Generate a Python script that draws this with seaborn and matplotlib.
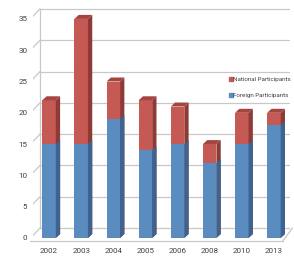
import matplotlib
matplotlib.use("Agg")
import matplotlib.pyplot as plt
import seaborn as sns
import pandas as pd
from matplotlib.patches import Polygon
from matplotlib.lines import Line2D

years = ["2002", "2003", "2004", "2005", "2006", "2008", "2010", "2013"]
foreign = [15, 15, 19, 14, 15, 12, 15, 18]
national = [7, 20, 6, 8, 6, 3, 5, 2]
yticks = [0, 5, 10, 15, 20, 25, 30, 35]

total = [f + n for f, n in zip(foreign, national)]
df = pd.DataFrame({"year": years, "foreign": foreign, "total": total})

sns.set_style("white")
plt.rcParams["font.family"] = ["Roboto", "DejaVu Sans"]
fs = 5.8
lfs = 4.5

W, H = 294, 256
fig = plt.figure(figsize=(W / 100, H / 100), dpi=100)
ax_left, ax_right, ax_bot, ax_top = 33, 290, 238, 6
ax = fig.add_axes([ax_left / W, (H - ax_bot) / H, (ax_right - ax_left) / W, (ax_bot - ax_top) / H])

ppu = 6.26  # pixels per y unit
ymax = (ax_bot - ax_top) / ppu
xmin, xmax = -0.6, 7.6
xppu = (ax_right - ax_left) / (xmax - xmin)
ax.set_xlim(xmin, xmax)
ax.set_ylim(0, ymax)

# background 3D grid
gdx, gdy = 10 / xppu, 10 / ppu
gc = "#c8c8c8"
for v in yticks:
    ax.plot([xmin + 0.02, xmin + gdx], [v, v + gdy], color=gc, lw=0.9, zorder=0)
    ax.plot([xmin + gdx, xmax - 0.02], [v + gdy, v + gdy], color=gc, lw=0.9, zorder=0)
ax.plot([xmin + 0.02, xmin + 0.02], [0, yticks[-1]], color=gc, lw=0.9, zorder=0)
ax.plot([xmin + gdx, xmin + gdx], [gdy, yticks[-1] + gdy], color=gc, lw=0.9, zorder=0)
ax.plot([xmin + 0.02, xmax - gdx], [-0.45, -0.45], color=gc, lw=0.9, zorder=0, clip_on=False)
ax.plot([xmax - gdx, xmax - 0.02], [-0.45, gdy], color=gc, lw=0.9, zorder=0, clip_on=False)

red, red_side, red_top = "#c55a55", "#8e3a37", "#a54441"
blue, blue_side, blue_top = "#5b8cc0", "#3d6390", "#4a77a8"

sns.barplot(data=df, x="year", y="total", color=red, saturation=1, width=0.42, ax=ax, zorder=2, linewidth=0)
n = len(ax.patches)
sns.barplot(data=df, x="year", y="foreign", color=blue, saturation=1, width=0.42, ax=ax, zorder=3, linewidth=0)
red_bars = ax.patches[:n]
blue_bars = ax.patches[n:]

ddx, ddy = 4.2 / xppu, 4 / ppu
for bars, side, top, ztop in [(red_bars, red_side, red_top, True), (blue_bars, blue_side, blue_top, False)]:
    for p in bars:
        x0, w, h = p.get_x(), p.get_width(), p.get_height()
        x1 = x0 + w
        ax.add_patch(Polygon([[x1, 0], [x1 + ddx, ddy], [x1 + ddx, h + ddy], [x1, h]],
                             closed=True, facecolor=side, edgecolor="none", zorder=p.get_zorder()))
        if ztop:
            ax.add_patch(Polygon([[x0, h], [x0 + ddx, h + ddy], [x1 + ddx, h + ddy], [x1, h]],
                                 closed=True, facecolor=top, edgecolor="none", zorder=p.get_zorder()))

for s in ax.spines.values():
    s.set_visible(False)
ax.set_xlabel("")
ax.set_ylabel("")
ax.set_yticks(yticks)
ax.set_yticklabels([str(v) for v in yticks], fontsize=fs, color="#404040")
ax.tick_params(axis="y", length=0, pad=4)
ax.tick_params(axis="x", length=0, pad=7, labelsize=fs, labelcolor="#404040")

handles = [Line2D([], [], marker="s", ls="none", color=red, markersize=2.8),
           Line2D([], [], marker="s", ls="none", color=blue, markersize=2.8)]
ax.legend(handles, ["National Participants", "Foreign Participants"], loc="upper left",
          bbox_to_anchor=((229 - ax_left) / (ax_right - ax_left), (ax_bot - 77) / (ax_bot - ax_top)),
          frameon=False, fontsize=lfs, labelcolor="#404040", handletextpad=0.05, handlelength=0.6,
          labelspacing=1.7, borderaxespad=0, borderpad=0)

fig.savefig("out.png", dpi=100, facecolor="white")
